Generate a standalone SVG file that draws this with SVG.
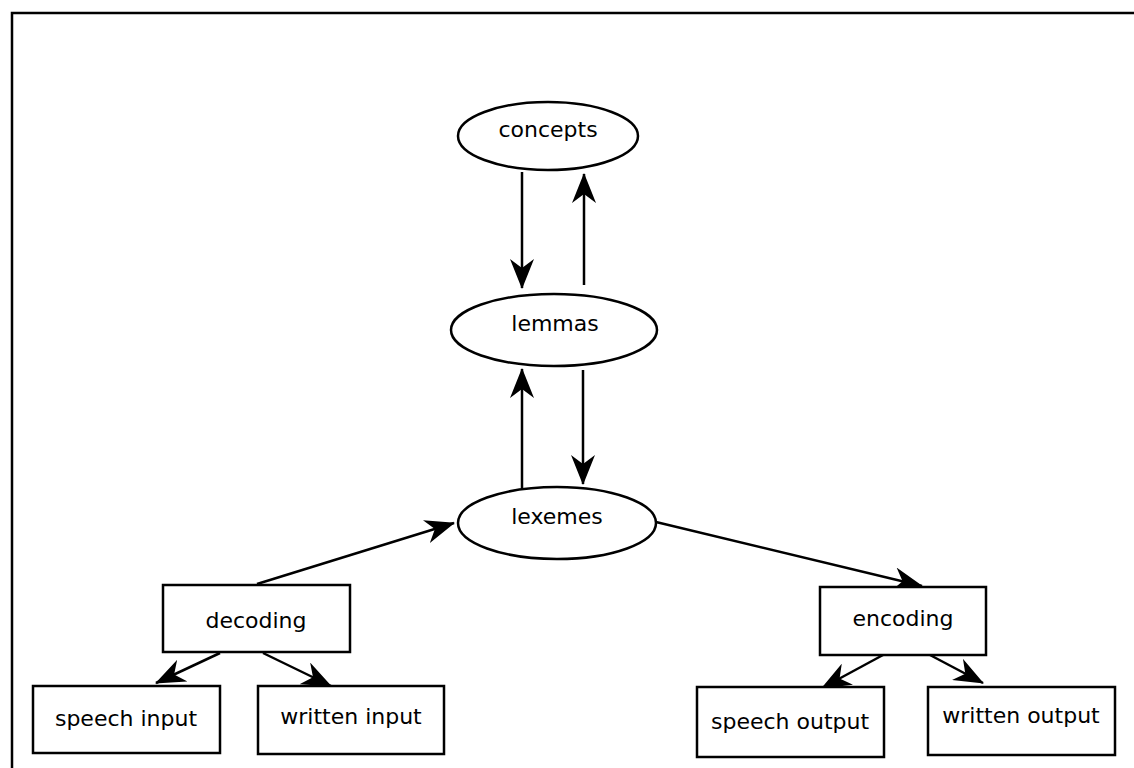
<svg xmlns="http://www.w3.org/2000/svg" width="1134" height="768" viewBox="0 0 1134 768">
  <style>
    .frame { fill: none; stroke: #000; stroke-width: 2.5; }
    .node { fill: #fff; stroke: #000; stroke-width: 2.5; }
    .label { font-family: "DejaVu Sans", Verdana, sans-serif; font-size: 22px; fill: #000; text-anchor: middle; dominant-baseline: central; }
    .edge { stroke: #000; stroke-width: 2.5; fill: none; marker-end: url(#head); }
  </style>
  <defs>
    <marker id="head" viewBox="0 0 30 24" refX="29" refY="12" markerWidth="30" markerHeight="24" markerUnits="userSpaceOnUse" orient="auto">
      <path d="M0,0 L30,12 L0,24 L9,12 Z" fill="#000"/>
    </marker>
  </defs>

  <rect width="1134" height="768" fill="#fff"/>
  <!-- outer frame, running off the right and bottom edges -->
  <rect class="frame" x="12" y="13" width="1140" height="780"/>

  <g id="connectors">
    <line class="edge" x1="522" y1="172" x2="522" y2="288"/>
    <line class="edge" x1="584" y1="285" x2="584" y2="174"/>
    <line class="edge" x1="522" y1="488" x2="522" y2="369"/>
    <line class="edge" x1="583" y1="370" x2="583" y2="484"/>
    <line class="edge" x1="257" y1="584" x2="454" y2="523"/>
    <line class="edge" x1="656" y1="522" x2="922" y2="586"/>
    <line class="edge" x1="220" y1="653" x2="156" y2="683"/>
    <line class="edge" x1="263" y1="653" x2="331" y2="686"/>
    <line class="edge" x1="883" y1="655" x2="822" y2="688"/>
    <line class="edge" x1="930" y1="655" x2="983" y2="683"/>
  </g>

  <g id="concepts">
    <ellipse class="node" cx="548" cy="136" rx="90" ry="34"/>
    <text class="label" x="548" y="129">concepts</text>
  </g>
  <g id="lemmas">
    <ellipse class="node" cx="554" cy="330" rx="103" ry="36"/>
    <text class="label" x="555" y="323">lemmas</text>
  </g>
  <g id="lexemes">
    <ellipse class="node" cx="557" cy="523" rx="99" ry="36"/>
    <text class="label" x="557" y="516">lexemes</text>
  </g>
  <g id="decoding">
    <rect class="node" x="163" y="585" width="187" height="67"/>
    <text class="label" x="256" y="620">decoding</text>
  </g>
  <g id="encoding">
    <rect class="node" x="820" y="587" width="166" height="68"/>
    <text class="label" x="903" y="618">encoding</text>
  </g>
  <g id="speech-input">
    <rect class="node" x="33" y="686" width="187" height="67"/>
    <text class="label" x="126" y="718">speech input</text>
  </g>
  <g id="written-input">
    <rect class="node" x="258" y="686" width="186" height="68"/>
    <text class="label" x="351" y="716">written input</text>
  </g>
  <g id="speech-output">
    <rect class="node" x="697" y="687" width="187" height="70"/>
    <text class="label" x="790" y="721">speech output</text>
  </g>
  <g id="written-output">
    <rect class="node" x="928" y="687" width="187" height="68"/>
    <text class="label" x="1021" y="715">written output</text>
  </g>
</svg>
